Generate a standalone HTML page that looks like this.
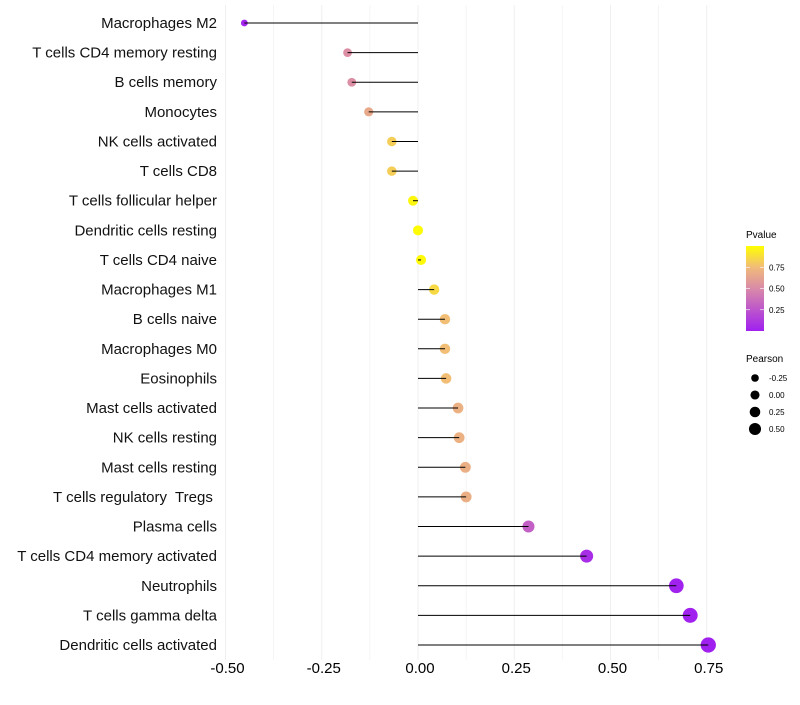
<!DOCTYPE html>
<html><head><meta charset="utf-8"><style>
body{margin:0;background:#fff;font-family:"Liberation Sans",sans-serif}
svg text{font-family:"Liberation Sans",sans-serif;white-space:pre}
</style></head><body>
<svg id="chart" width="800" height="700" xmlns="http://www.w3.org/2000/svg">
<g id="grid"></g>
<g id="ylabels"></g>
<g id="xlabels"></g>
<g id="marks"></g>
<g id="legend">
<defs><linearGradient id="pg" x1="0" y1="1" x2="0" y2="0">
<stop offset="0" stop-color="#a020f0"/><stop offset="0.5" stop-color="#d98aa8"/><stop offset="0.75" stop-color="#f1bb7a"/><stop offset="1" stop-color="#ffff00"/></linearGradient></defs>
<text x="746" y="238" font-size="10">Pvalue</text>
<rect x="746" y="246" width="18" height="85" fill="url(#pg)"/>
<g id="cbticks"></g>
<text x="746" y="362" font-size="10">Pearson</text>
<g id="sizeleg"></g>
</g>
</svg>
<script>
const categories=["Macrophages M2","T cells CD4 memory resting","B cells memory","Monocytes","NK cells activated","T cells CD8","T cells follicular helper","Dendritic cells resting","T cells CD4 naive","Macrophages M1","B cells naive","Macrophages M0","Eosinophils","Mast cells activated","NK cells resting","Mast cells resting","T cells regulatory  Tregs ","Plasma cells","T cells CD4 memory activated","Neutrophils","T cells gamma delta","Dendritic cells activated"];
const pearson=[-0.451,-0.183,-0.172,-0.128,-0.068,-0.068,-0.013,0.0,0.008,0.042,0.07,0.07,0.073,0.104,0.107,0.123,0.125,0.287,0.438,0.671,0.707,0.754];
const pvalue=[0.02,0.52,0.52,0.66,0.82,0.82,0.97,0.99,0.98,0.86,0.76,0.76,0.76,0.7,0.7,0.69,0.69,0.3,0.06,0.01,0.005,0.001];
const xTicks=[-0.5,-0.25,0,0.25,0.5,0.75];
const xTickLabels=["-0.50","-0.25","0.00","0.25","0.50","0.75"];
const pTicks=[0.25,0.5,0.75];
const pTickLabels=["0.25","0.50","0.75"];
const sizeVals=[-0.25,0,0.25,0.5];
const sizeLabels=["-0.25","0.00","0.25","0.50"];
</script>
<script>
const NS="http://www.w3.org/2000/svg";
function x(v){return 418+(v)*385;}
const y0=23,yStep=(645-23)/(categories.length-1);
function y(i){return y0+i*yStep;}
function r(v){return Math.max(2,5+3.5*v);}
function color(p){
 const stops=[[0,[160,32,240]],[0.5,[217,138,168]],[0.75,[241,187,122]],[1,[255,255,0]]];
 for(let k=1;k<stops.length;k++){if(p<=stops[k][0]){const a=stops[k-1],b=stops[k];const t=(p-a[0])/(b[0]-a[0]);
 return "rgb("+a[1].map((c,j)=>Math.round(c+(b[1][j]-c)*t)).join(",")+")";}}
 return "rgb(255,255,0)";}
function mk(tag,attrs,parent){const e=document.createElementNS(NS,tag);for(const k in attrs)e.setAttribute(k,attrs[k]);parent.appendChild(e);return e;}
const grid=document.getElementById("grid"),yl=document.getElementById("ylabels"),xl=document.getElementById("xlabels"),marks=document.getElementById("marks");
for(let v=-0.5;v<=0.751;v+=0.125){
 const l=mk("line",{x1:x(v),x2:x(v),y1:5,y2:660,stroke:"#efefef","stroke-width":(Math.abs(v*4-Math.round(v*4))<1e-6)?1:0.6},grid);
 
 
}
xTicks.forEach((v,i)=>{
 const t=mk("text",{x:x(v)+2,y:673,"font-size":15,"text-anchor":"middle",fill:"#000"},xl);t.textContent=xTickLabels[i];
 
 
});
categories.forEach((c,i)=>{
 const yy=y(i);
 const t=mk("text",{x:217,y:yy+5,"font-size":15,"text-anchor":"end",fill:"#111"},yl);t.textContent=c;
 
 
 const ci=mk("circle",{cx:x(pearson[i]),cy:yy,r:r(pearson[i]),fill:color(pvalue[i])},marks);
 
 
 const ln=mk("line",{x1:x(0),x2:x(pearson[i]),y1:yy,y2:yy,stroke:"#000","stroke-width":1},marks);
 
 
});
const cbt=document.getElementById("cbticks");
pTicks.forEach((p,i)=>{
 const yy=331-p*85;
 const tl=mk("line",{x1:746,x2:750,y1:yy,y2:yy,stroke:"#fff","stroke-width":0.6},cbt);
 
 
 const tl2=mk("line",{x1:760,x2:764,y1:yy,y2:yy,stroke:"#fff","stroke-width":0.6},cbt);
 
 
 const t=mk("text",{x:769,y:yy+3,"font-size":8},cbt);t.textContent=pTickLabels[i];
 
 
});
const sl=document.getElementById("sizeleg");
sizeVals.forEach((v,i)=>{
 const yy=378+i*17;
 const c=mk("circle",{cx:755,cy:yy,r:r(v)*0.85+0.3,fill:"#000"},sl);
 
 
 const t=mk("text",{x:769,y:yy+3,"font-size":8},sl);t.textContent=sizeLabels[i];
 
 
});
</script>
</body></html>
